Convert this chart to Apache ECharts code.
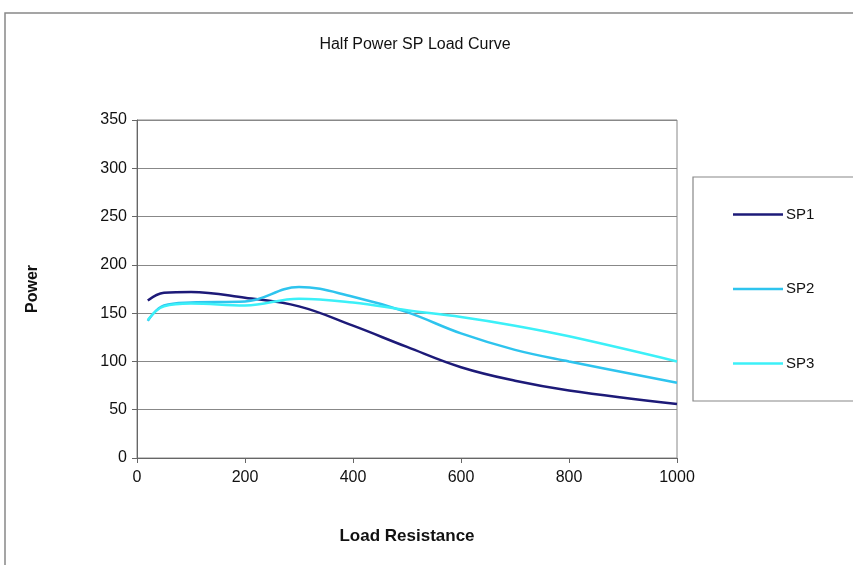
<!DOCTYPE html>
<html><head><meta charset="utf-8">
<script src="https://cdn.jsdelivr.net/npm/echarts@6/dist/echarts.min.js"></script>
<style>html,body{margin:0;padding:0;background:#fff}#c{width:853px;height:565px}</style>
</head><body><div id="c"></div>
<script>
const xValues = [20, 50, 100, 200, 300, 400, 500, 600, 700, 800, 1000];
const sp1 = [163, 171, 172, 166, 157, 137, 115, 94, 80, 70, 56];
const sp2 = [142, 158, 161, 162, 177, 167, 151, 129, 112, 100, 78];
const sp3 = [143, 157, 160, 158, 165, 161, 153, 146, 137, 126, 100];
const seriesNames = ['SP1', 'SP2', 'SP3'];
const colors = ['#1d1a78', '#2ec4ee', '#3cf0f8'];

const pair = arr => xValues.map((x, i) => [x, arr[i]]);
const font = 'Liberation Sans, Arial, sans-serif';
const chart = echarts.init(document.getElementById('c'));
chart.setOption({
  animation: false,
  backgroundColor: '#fff',
  graphic: [{
    type: 'rect', shape: {x: 5, y: 13, width: 900, height: 600},
    style: {fill: 'none', stroke: '#888', lineWidth: 1.5}, z: -1
  }],
  title: {
    text: 'Half Power SP Load Curve', left: 410, top: 32, textAlign: 'center',
    textStyle: {fontFamily: font, fontSize: 16, fontWeight: 'normal', color: '#111'}
  },
  legend: {
    orient: 'vertical', left: 693, top: 177,
    data: seriesNames,
    icon: 'rect',
    itemWidth: 50, itemHeight: 2.5, itemGap: 59.5,
    padding: [30, 80, 30, 40],
    borderColor: '#888', borderWidth: 1.2,
    textStyle: {fontFamily: font, fontSize: 15, color: '#111', padding: [0, 0, 0, -2]}
  },
  grid: {left: 137, right: 176, top: 120, bottom: 107, show: true, borderColor: '#888', borderWidth: 1},
  xAxis: {
    type: 'value', min: 0, max: 1000, interval: 200,
    name: 'Load Resistance', nameLocation: 'middle', nameGap: 70,
    nameTextStyle: {fontFamily: font, fontSize: 17, fontWeight: 'bold', color: '#111'},
    axisLine: {lineStyle: {color: '#666'}},
    axisTick: {show: true, length: 5, lineStyle: {color: '#666'}},
    axisLabel: {fontFamily: font, fontSize: 16, color: '#111', margin: 12, formatter: v => String(v)},
    splitLine: {show: false}
  },
  yAxis: {
    type: 'value', min: 0, max: 350, interval: 50,
    name: 'Power', nameLocation: 'middle', nameGap: 96, nameRotate: 90,
    nameTextStyle: {fontFamily: font, fontSize: 16, fontWeight: 'bold', color: '#111'},
    axisLine: {show: true, lineStyle: {color: '#666'}},
    axisTick: {show: true, length: 5, lineStyle: {color: '#666'}},
    axisLabel: {fontFamily: font, fontSize: 16, color: '#111', margin: 10},
    splitLine: {lineStyle: {color: '#888', width: 1}}
  },
  series: [sp1, sp2, sp3].map((d, i) => ({
    name: seriesNames[i], type: 'line', data: pair(d), smooth: 0.4,
    symbol: 'none', showSymbol: false, color: colors[i],
    lineStyle: {width: 2.5, color: colors[i]},
    itemStyle: {color: colors[i]}
  }))
});
</script></body></html>
